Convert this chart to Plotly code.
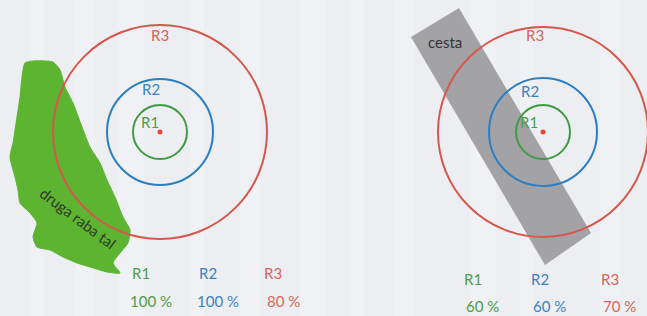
import plotly.graph_objects as go

# ---- data ----
rings = ["R1", "R2", "R3"]
left_pct = [100, 100, 80]
right_pct = [60, 60, 70]
left_label = "druga raba tal"
right_label = "cesta"

# ---- geometry / style ----
W, H = 647, 316
ring_colors = ["#3f9b43", "#2a7fc2", "#d6574b"]
text_colors = ["#4e9e45", "#3c82c2", "#d2675a"]
radii = [27, 53, 107]
radii_r = [27, 54, 105]
centers = [(160, 132), (543, 132)]

blob_x = [25, 33, 53, 60, 65, 73, 82, 90, 100, 107, 115, 123, 130, 128, 120, 113, 120,
          107, 90, 77, 63, 50, 37, 33, 37, 30, 20, 18, 15, 10, 13, 15, 17, 20, 22, 25]
blob_y = [63, 61, 62, 70, 87, 103, 127, 147, 163, 180, 197, 217, 230, 243, 253, 263, 273,
          272, 267, 263, 257, 250, 247, 237, 223, 213, 203, 190, 177, 157, 143, 130, 117, 97, 77, 63]
road_x = [411, 459, 591, 545, 411]
road_y = [37, 8, 233, 265, 37]

fig = go.Figure()

# faint background stripes
shapes = []
stripe_x = [30, 75, 118, 190, 240, 300, 350, 395, 470, 520, 600]
for i, sx in enumerate(stripe_x):
    shapes.append(dict(type="rect", xref="x", yref="y", x0=sx, x1=sx + 14 + (i % 3) * 6,
                       y0=0, y1=H, fillcolor="rgba(255,255,255,0.18)", line_width=0, layer="below"))

fig.add_trace(go.Scatter(x=blob_x, y=blob_y, fill="toself", mode="lines",
                         line=dict(color="#5db431", width=1, shape="spline", smoothing=0.6),
                         fillcolor="#5db431", hoverinfo="skip", showlegend=False))
fig.add_trace(go.Scatter(x=road_x, y=road_y, fill="toself", mode="lines",
                         line=dict(color="#a3a3a5", width=0),
                         fillcolor="#a3a3a5", hoverinfo="skip", showlegend=False))

for ci, (cx, cy) in enumerate(centers):
    rs = radii if ci == 0 else radii_r
    for r, col in zip(rs, ring_colors):
        shapes.append(dict(type="circle", xref="x", yref="y", x0=cx - r, x1=cx + r,
                           y0=cy - r, y1=cy + r, line=dict(color=col, width=2)))
    shapes.append(dict(type="circle", xref="x", yref="y", x0=cx - 2.5, x1=cx + 2.5,
                       y0=cy - 2.5, y1=cy + 2.5, fillcolor="#e8453c", line_width=0))

annotations = []
font = "Lato, Open Sans, sans-serif"
FS = 15
# ring labels inside the diagrams
ring_label_pos = [[(150, 122), (151, 89), (160, 35)], [(529, 122), (530, 91), (535, 35)]]
for pos in ring_label_pos:
    for (x, y), name, col in zip(pos, rings, text_colors):
        annotations.append(dict(x=x, y=y, text=name, showarrow=False, xref="x", yref="y",
                                font=dict(family=font, size=FS, color=col)))

annotations.append(dict(x=78, y=218, text=left_label, showarrow=False, textangle=37,
                        font=dict(family=font, size=FS, color="#2f3a28")))
annotations.append(dict(x=445, y=42, text=right_label, showarrow=False,
                        font=dict(family=font, size=FS, color="#333333")))

# bottom summaries
left_cols = [141, 208, 273]
right_cols = [473, 540, 610]
for xs, pcts, y1, y2, dx in [(left_cols, left_pct, 273, 301, 10), (right_cols, right_pct, 279, 306, 9)]:
    for x, name, p, col in zip(xs, rings, pcts, text_colors):
        annotations.append(dict(x=x, y=y1, text=name, showarrow=False,
                                font=dict(family=font, size=FS, color=col)))
        annotations.append(dict(x=x + dx, y=y2, text=f"{p} %", showarrow=False,
                                font=dict(family=font, size=FS, color=col)))

fig.update_layout(
    width=W, height=H, margin=dict(l=0, r=0, t=0, b=0),
    paper_bgcolor="#eceef2", plot_bgcolor="#eceef2",
    xaxis=dict(range=[0, W], visible=False, fixedrange=True),
    yaxis=dict(range=[H, 0], visible=False, fixedrange=True),
    shapes=shapes, annotations=annotations, showlegend=False,
)
fig.write_html("out.html", config={"displayModeBar": False},
               post_script="document.body.style.margin='0';document.body.style.overflow='hidden';")
